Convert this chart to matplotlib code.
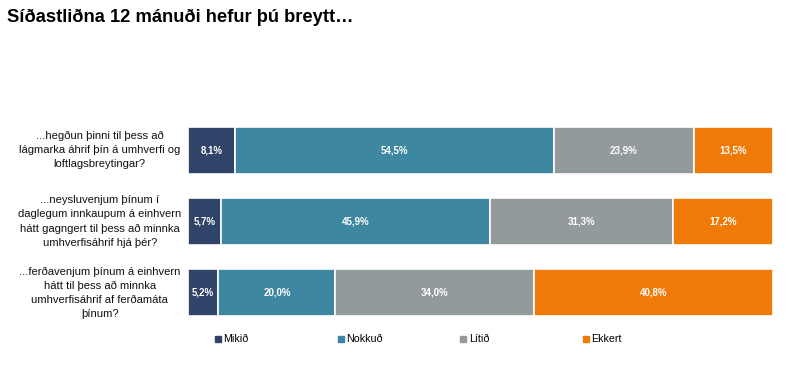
import matplotlib
matplotlib.use("Agg")
import matplotlib.pyplot as plt
import numpy as np

plt.rcParams["font.family"] = ["Liberation Sans", "DejaVu Sans"]

title = "Síðastliðna 12 mánuði hefur þú breytt…"
questions = [
    "...hegðun þinni til þess að\nlágmarka áhrif þín á umhverfi og\nloftlagsbreytingar?",
    "...neysluvenjum þínum í\ndaglegum innkaupum á einhvern\nhátt gagngert til þess að minnka\numhverfisáhrif hjá þér?",
    "...ferðavenjum þínum á einhvern\nhátt til þess að minnka\numhverfisáhrif af ferðamáta\nþínum?",
]
series = ["Mikið", "Nokkuð", "Lítið", "Ekkert"]
mikid = [8.1, 5.7, 5.2]
nokkud = [54.5, 45.9, 20.0]
litid = [23.9, 31.3, 34.0]
ekkert = [13.5, 17.2, 40.8]
colors = ["#2f4468", "#3d87a0", "#939a9b", "#f07a08"]

fig = plt.figure(figsize=(8, 3.67), dpi=100)
ax = fig.add_axes([0.235, 0.106, 0.731, 0.581])

y = np.arange(len(questions))
left = np.zeros(len(questions))
for name, vals, col in zip(series, [mikid, nokkud, litid, ekkert], colors):
    vals = np.array(vals)
    ax.barh(y, vals, left=left, height=0.66, color=col,
            edgecolor="white", linewidth=1.2)
    for yi, l, v in zip(y, left, vals):
        ax.text(l + v / 2, yi, f"{v:.1f}%".replace(".", ","),
                ha="center", va="center", color="white",
                fontsize=7, fontweight="bold")
    left += vals

ax.set_xlim(0, 100)
ax.set_ylim(2.5, -0.5)
ax.axis("off")

# question labels, centred in the left margin
for yi, q in zip(y, questions):
    ax.text(-0.151, yi, q, transform=ax.get_yaxis_transform(),
            ha="center", va="center", fontsize=8.1, linespacing=1.5,
            color="#111111")

fig.text(0.009, 0.952, title, fontsize=13.2, fontweight="bold",
         ha="left", va="center")

# legend with fixed-width columns
for i, (name, col) in enumerate(zip(series, colors)):
    x = 0.2725 + i * 0.1535
    fig.patches.append(plt.Rectangle((x - 0.004, 0.068), 0.0075, 0.0165,
                                     transform=fig.transFigure, color=col))
    fig.text(x + 0.0065, 0.0765, name, fontsize=7.7, ha="left", va="center")

fig.savefig("out.png", dpi=100)
